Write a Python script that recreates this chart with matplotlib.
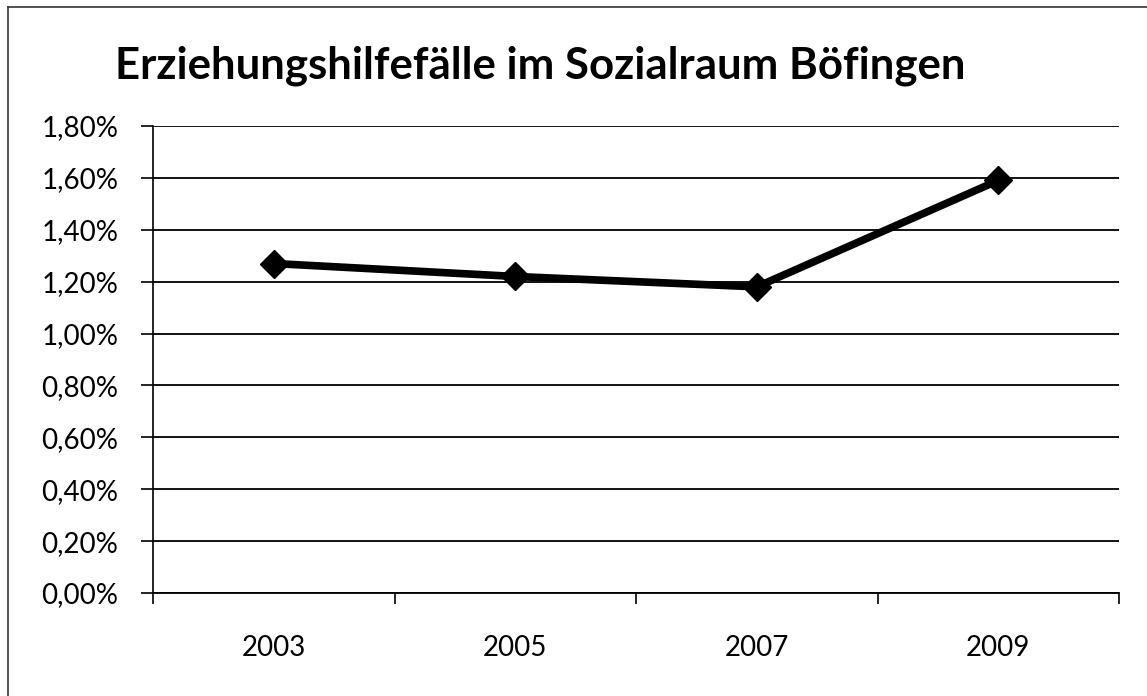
import matplotlib.pyplot as plt
from matplotlib.lines import Line2D
from matplotlib.ticker import FuncFormatter

# Daten (Anteil in Prozent)
jahre = ["2003", "2005", "2007", "2009"]
anteile = [1.27, 1.22, 1.18, 1.59]
y_ticks = [0.0, 0.2, 0.4, 0.6, 0.8, 1.0, 1.2, 1.4, 1.6, 1.8]

plt.rcParams['font.family'] = ['Lato', 'DejaVu Sans']

fig = plt.figure(figsize=(11.47, 6.96), dpi=100)
ax = fig.add_axes([153 / 1147, 1 - 593 / 696, (1119 - 153) / 1147, (593 - 126) / 696])

x = list(range(len(jahre)))
ax.plot(x, anteile, color='black', linewidth=5.5, marker='D', markersize=14,
        markerfacecolor='black', markeredgecolor='black', zorder=3)

ax.set_xlim(-0.5, len(jahre) - 0.5)
ax.set_ylim(0, 1.8)
ax.set_yticks(y_ticks)
ax.yaxis.set_major_formatter(FuncFormatter(lambda v, p: f"{v:.2f}%".replace('.', ',')))
ax.grid(axis='y', color='black', linewidth=1.3)
ax.set_axisbelow(True)

# Kategorien mittig, Ticks an den Grenzen
ax.set_xticks([i - 0.5 for i in range(len(jahre) + 1)])
ax.set_xticklabels([])
ax.set_xticks(x, minor=True)
ax.set_xticklabels(jahre, minor=True)
ax.tick_params(axis='x', which='minor', length=0, pad=30, labelsize=20)
ax.tick_params(axis='x', which='major', length=8, direction='out', width=1.2)
ax.tick_params(axis='y', length=9, direction='out', width=1.2, labelsize=20, pad=16)

for s in ['top', 'right']:
    ax.spines[s].set_visible(False)
ax.spines['left'].set_linewidth(1.2)
ax.spines['bottom'].set_linewidth(1.3)

fig.text(540 / 1147, 1 - 66 / 696, "Erziehungshilfefälle im Sozialraum Böfingen",
         ha='center', va='center', fontsize=31.5, fontweight='bold')

# Rahmen des Diagramms
fig.add_artist(Line2D([8 / 1147, 8 / 1147], [0, 1 - 7 / 696], transform=fig.transFigure,
                      color='#333333', linewidth=1.2))
fig.add_artist(Line2D([8 / 1147, 1], [1 - 7 / 696, 1 - 7 / 696], transform=fig.transFigure,
                      color='#333333', linewidth=1.2))

fig.savefig('out.png', dpi=100)
